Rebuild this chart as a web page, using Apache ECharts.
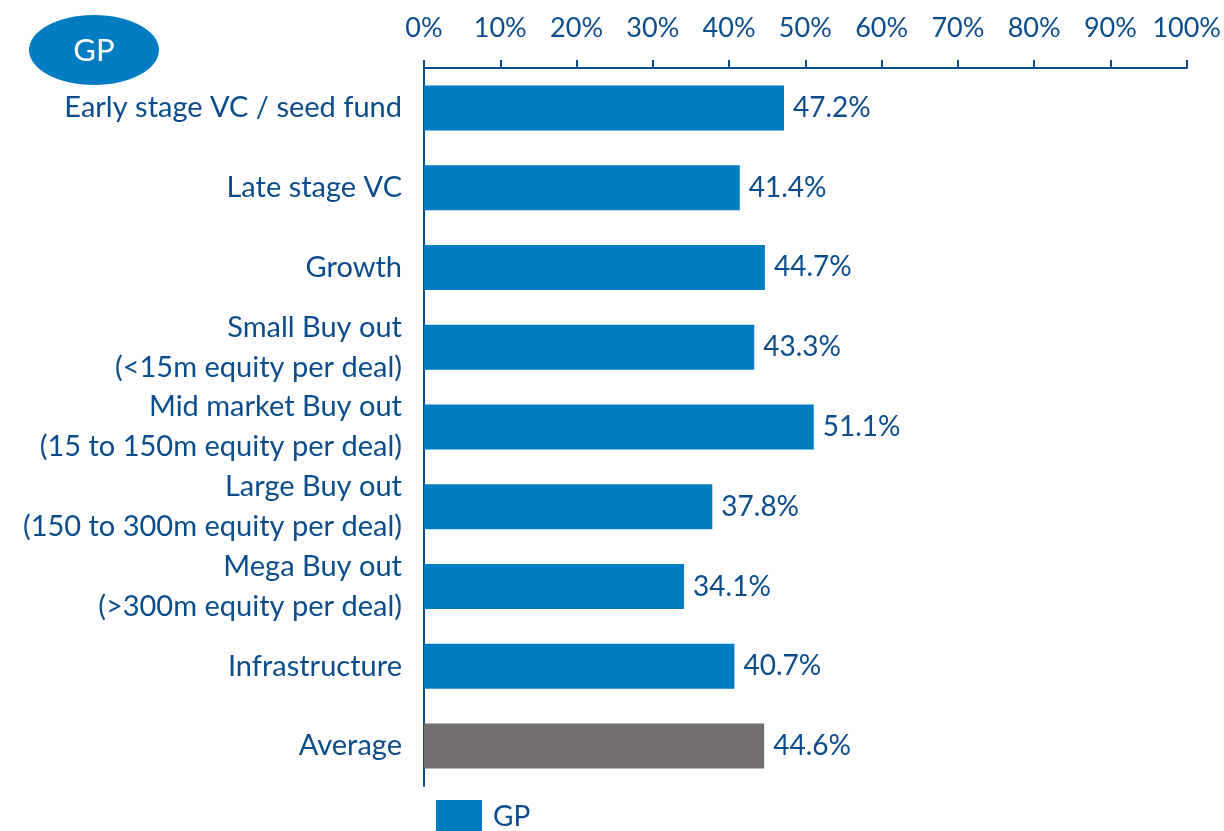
<!DOCTYPE html>
<html>
<head>
<meta charset="utf-8">
<script src="https://cdn.jsdelivr.net/npm/echarts@6/dist/echarts.min.js"></script>
<style>
  html, body { margin: 0; padding: 0; background: #fff; }
  #main { width: 1224px; height: 831px; }
</style>
</head>
<body>
<div id="main"></div>
<script>
// 分类与数值
const categories = [
  'Early stage VC / seed fund',
  'Late stage VC',
  'Growth',
  'Small Buy out\n(<15m equity per deal)',
  'Mid market Buy out\n(15 to 150m equity per deal)',
  'Large Buy out\n(150 to 300m equity per deal)',
  'Mega Buy out\n(>300m equity per deal)',
  'Infrastructure',
  'Average'
]
const gpValues = [47.2, 41.4, 44.7, 43.3, 51.1, 37.8, 34.1, 40.7, 44.6]
const seriesName = 'GP'

const navy = '#0b4c8c'
const blue = '#007cc2'
const grey = '#736f6e'
const font = 'Lato'

const chart = echarts.init(document.getElementById('main'))
chart.setOption({
  animation: false,
  textStyle: { fontFamily: font },
  grid: { left: 424, right: 36, top: 68, bottom: 45 },
  legend: {
    data: [{ name: seriesName, icon: 'rect', itemStyle: { color: blue } }],
    left: 436,
    top: 800,
    padding: 0,
    itemWidth: 46,
    itemHeight: 34,
    itemGap: 10,
    textStyle: { color: navy, fontSize: 28, fontFamily: font, padding: [0, 0, 0, 6] }
  },
  graphic: [
    {
      type: 'ellipse',
      shape: { cx: 94, cy: 50, rx: 65, ry: 35 },
      style: { fill: blue }
    },
    {
      type: 'text',
      x: 94,
      y: 51,
      style: {
        text: 'GP',
        fill: '#fff',
        fontSize: 31,
        fontFamily: font,
        align: 'center',
        verticalAlign: 'middle'
      }
    }
  ],
  xAxis: {
    type: 'value',
    position: 'top',
    min: 0,
    max: 100,
    interval: 10,
    axisLine: { show: true, lineStyle: { color: navy, width: 2 } },
    axisTick: { show: true, length: 8, lineStyle: { color: navy, width: 2 } },
    splitLine: { show: false },
    axisLabel: {
      color: navy,
      fontSize: 27,
      margin: 26,
      formatter: (v) => v + '%'
    }
  },
  yAxis: {
    type: 'category',
    inverse: true,
    data: categories,
    axisLine: { show: true, lineStyle: { color: navy, width: 2 } },
    axisTick: { show: false },
    axisLabel: {
      color: navy,
      fontSize: 29,
      lineHeight: 40,
      margin: 22,
      align: 'right',
      padding: [6, 0, 0, 0]
    }
  },
  series: [
    {
      name: seriesName,
      type: 'bar',
      data: gpValues,
      barWidth: 45,
      itemStyle: {
        color: (p) => (p.name === 'Average' ? grey : blue)
      },
      label: {
        show: true,
        position: 'right',
        distance: 9,
        color: navy,
        fontSize: 28,
        formatter: (p) => p.value.toFixed(1) + '%'
      }
    }
  ]
})
</script>
</body>
</html>
